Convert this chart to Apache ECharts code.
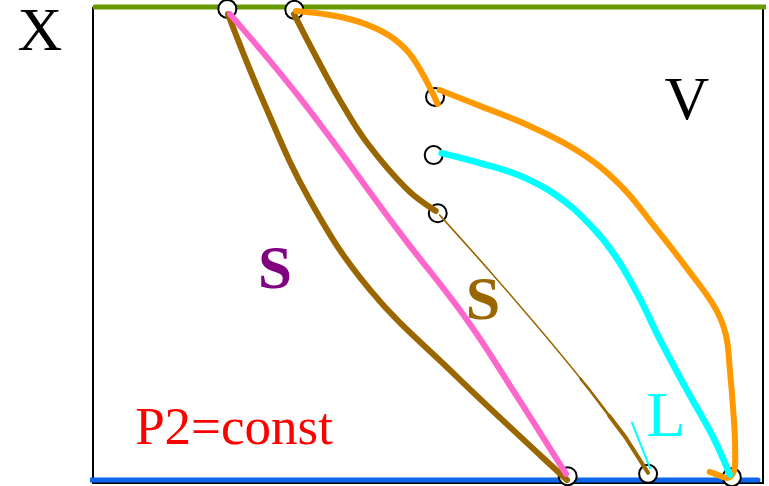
<!DOCTYPE html>
<html><head><meta charset="utf-8">
<script src="https://cdn.jsdelivr.net/npm/echarts@6/dist/echarts.min.js"></script>
<style>html,body{margin:0;padding:0;background:#fff}#c{width:769px;height:486px}</style>
</head><body><div id="c"></div>
<script>
// composition space: x 0..100 (left->right), y 0..100 (bottom->top)
const topLine = [[0.15,100],[100.7,100]];          // green, X side
const bottomLine = [[-0.6,0],[99.1,0]];            // blue, P2=const
const nodes = [[19.9,99.6],[29.9,99.4],[50.9,81.0],[50.7,68.7],[51.3,56.4],[70.7,0.8],[82.7,1.3],[95.2,0.6]];
const brownLeft = [[20.0,98.5],[25.2,80.3],[32.2,59.2],[41.2,40.2],[53.6,22.6],[67.0,4.7],[70.6,0.0]];
const pinkLine = [[20.3,98.5],[31.0,80.3],[45.7,52.2],[55.7,33.8],[62.8,18.4],[70.45,1.3]];
const brownMid = [[29.85,98.5],[33.4,88.8],[36.7,80.3],[40.75,71.3],[46.7,61.5],[51.0,56.9]];
const brownThin = [[51.6,56.0],[59.6,43.3],[67.3,30.6],[74.0,19.0],[79.3,9.1],[82.7,1.5]];
const brownThinMid = [[72.6,21.4],[74.0,19.0],[76.9,13.55]];
const brownThinEnd = [[76.9,13.55],[79.3,9.1],[82.7,1.5]];
const orangeA = [[30.15,99.15],[35.2,98.3],[39.7,96.8],[43.9,94.1],[46.9,90.5],[48.7,86.7],[50.15,82.9],[51.3,79.5]];
const orangeB = [[51.6,82.45],[57.6,79.1],[65.1,74.8],[72.5,69.3],[78.5,62.4],[83.7,53.5],[88.9,44.0],[92.7,36.4],[94.3,30.7],[94.9,23.3],[95.4,14.8],[95.7,6.3],[95.7,3.2]];
const orangeHook = [[95.7,3.6],[95.4,1.5],[94.5,0.4],[93.1,1.1],[91.9,1.7]];
const cyanLine = [[51.9,69.1],[57.6,67.0],[63.6,64.3],[69.1,60.1],[74.0,54.0],[77.8,47.4],[81.2,39.1],[84.5,29.6],[88.5,19.0],[92.4,9.1],[94.9,1.1]];
const cyanWedge = [[80.3,12.1],[83.0,2.5]];
const labels = [
  {text:'X', x:40, y:34, color:'#000', size:62, bold:false},
  {text:'V', x:687, y:103, color:'#000', size:62, bold:false},
  {text:'S', x:275, y:272, color:'#800080', size:61, bold:true},
  {text:'S', x:483, y:303, color:'#996600', size:62, bold:true},
  {text:'L', x:666, y:419, color:'#00ffff', size:64, bold:false},
  {text:'P2=const', x:234, y:430, color:'#ff0000', size:53, bold:false}
];

function line(data, color, width, z, smooth) {
  return {type:'line', data:data, symbol:'none', clip:false, z:z,
    smooth: smooth === undefined ? 0.4 : smooth,
    lineStyle:{color:color, width:width, cap:'round', join:'round', opacity:1}};
}

const chart = echarts.init(document.getElementById('c'), null, {renderer:'canvas'});
chart.setOption({
  animation:false,
  backgroundColor:'#fff',
  grid:{left:93, right:6, top:8, bottom:3, show:true, borderColor:'#000', borderWidth:2, backgroundColor:'transparent'},
  xAxis:{type:'value', min:-0.149, max:99.85, show:false},
  yAxis:{type:'value', min:-0.634, max:99.79, show:false},
  series:[
    line(topLine, '#669900', 5, 1, false),
    line(bottomLine, '#0d66ee', 5, 1, false),
    {type:'scatter', data:nodes, symbol:'circle', symbolSize:18, z:2, clip:false,
      itemStyle:{color:'#fff', borderColor:'#000', borderWidth:2, opacity:1}},
    line(brownLeft, '#996600', 6, 3),
    line(pinkLine, '#ff66cc', 6, 3),
    line(brownMid, '#996600', 6, 3),
    line(brownThin, '#996600', 1.5, 3),
    line(brownThinMid, '#996600', 2.5, 3, false),
    line(brownThinEnd, '#996600', 4, 3, false),
    line(orangeA, '#ff9900', 6, 3),
    line(orangeB, '#ff9900', 6, 3),
    line(orangeHook, '#ff9900', 6, 3),
    line(cyanLine, '#00ffff', 6.5, 3),
    line(cyanWedge, '#00ffff', 2, 3, false)
  ],
  graphic: labels.map(l => ({type:'text', x:l.x, y:l.y, z:10,
    style:{text:l.text, fill:l.color, font:(l.bold?'bold ':'')+l.size+'px "Liberation Serif", "DejaVu Serif", serif',
      textAlign:'center', textVerticalAlign:'middle'}}))
});
</script></body></html>
